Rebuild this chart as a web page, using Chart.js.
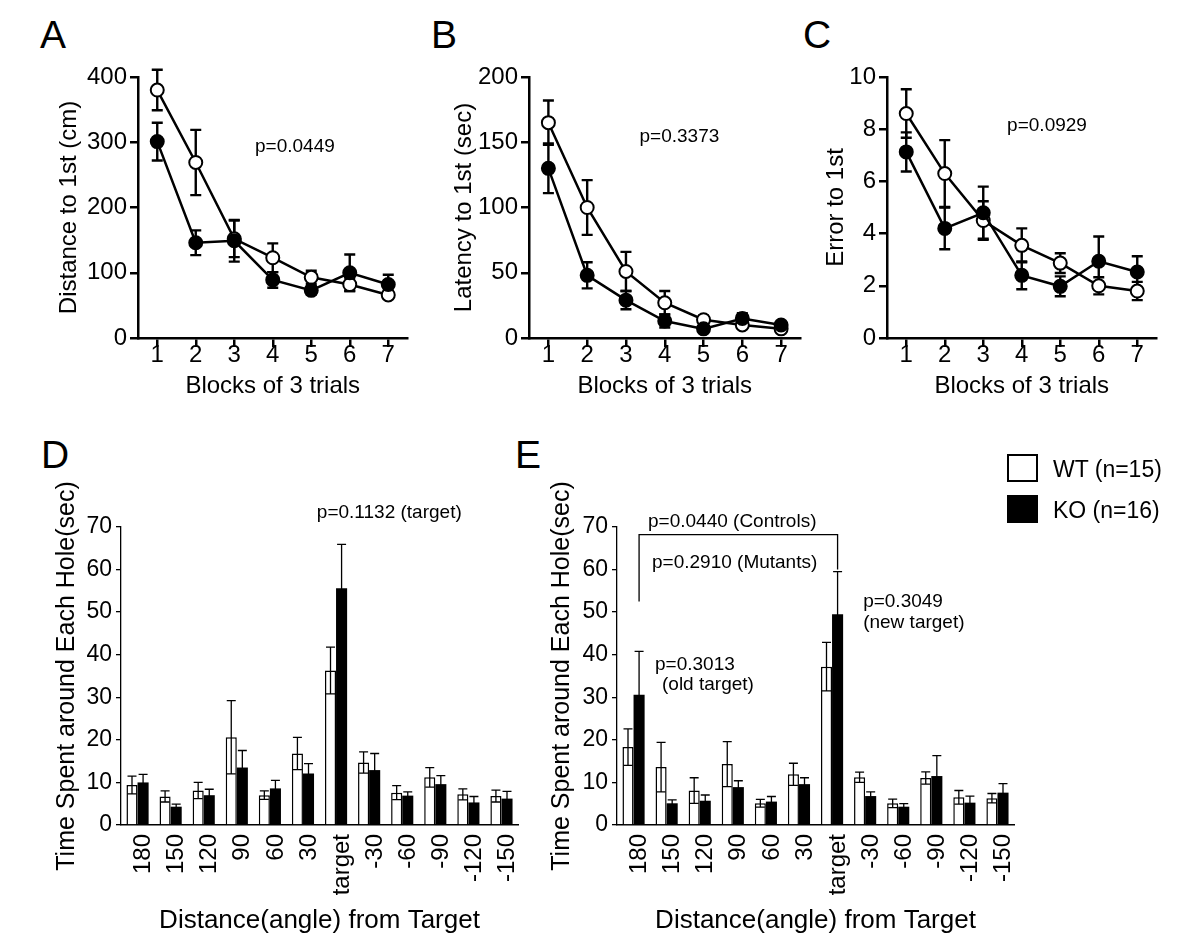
<!DOCTYPE html>
<html><head><meta charset="utf-8">
<script src="https://cdn.jsdelivr.net/npm/chart.js@4.4.1/dist/chart.umd.min.js"></script>
<style>
body{margin:0;background:#fff;width:1200px;height:951px;position:relative;overflow:hidden;font-family:'Liberation Sans',Arial,sans-serif;color:#000}
canvas{position:absolute}
.lt{position:absolute;font-size:39px;line-height:39px}
.lg{position:absolute;left:1007px;width:31px;height:28px;box-sizing:border-box;border:2px solid #000}
.lgt{position:absolute;left:1053px;font-size:23px;line-height:23px}
</style></head><body>
<div class="lt" style="left:40px;top:15px">A</div>
<div class="lt" style="left:431px;top:15px">B</div>
<div class="lt" style="left:803px;top:15px">C</div>
<div class="lt" style="left:41px;top:435px">D</div>
<div class="lt" style="left:515px;top:435px">E</div>
<canvas id="cA" width="420" height="410" style="left:0;top:0"></canvas>
<canvas id="cB" width="420" height="410" style="left:400px;top:0"></canvas>
<canvas id="cC" width="410" height="410" style="left:790px;top:0"></canvas>
<canvas id="cD" width="560" height="521" style="left:0;top:430px"></canvas>
<canvas id="cE" width="560" height="521" style="left:500px;top:430px"></canvas>
<div id="legend"></div>
<script>
const FONT="'Liberation Sans', Arial, sans-serif";
const seriesNames=['WT (n=15)','KO (n=16)'];

// A-C: blocks of 3 trials
const blocks=[1,2,3,4,5,6,7];
const wtDist=[380,269,152,123,93,82,66];
const wtDistSem=[31,50,28,22,10,10,6];
const koDist=[301,146,149,89,73,100,82];
const koDistSem=[29,19,32,12,6,28,15];
const wtLat=[165,100,51,27,14,10,7];
const wtLatSem=[17,21,15,9,3,3,2];
const koLat=[130,48,29,13,7,15,10];
const koLatSem=[19,10,7,5,2,4,2];
const wtErr=[8.6,6.3,4.5,3.55,2.87,2.0,1.8];
const wtErrSem=[0.93,1.28,0.74,0.65,0.38,0.33,0.35];
const koErr=[7.13,4.2,4.8,2.4,1.98,2.94,2.53];
const koErrSem=[0.75,0.8,1.0,0.53,0.38,0.95,0.6];

// D-E: time around each hole
const angles=['180','150','120','90','60','30','target','-30','-60','-90','-120','-150'];
const wtProbe1=[9.4,6.7,8.1,20.6,7.0,16.8,36.3,14.7,7.6,11.2,7.2,6.8];
const wtProbe1Sem=[2.1,1.3,1.9,8.6,1.0,3.8,5.5,2.5,1.65,2.3,1.3,1.4];
const koProbe1=[10.0,4.3,7.0,13.5,8.6,12.1,55.6,12.9,6.9,9.6,5.3,6.2];
const koProbe1Sem=[1.9,0.6,1.4,4.0,1.9,2.3,10.3,3.9,0.9,2.0,1.4,1.7];
const wtProbe2=[18.3,13.6,8.1,14.3,5.1,11.9,37.2,11.2,5.1,11.05,6.5,6.3];
const wtProbe2Sem=[4.3,5.8,3.0,5.3,0.9,2.6,5.7,1.2,1.0,1.45,1.6,1.1];
const koProbe2=[30.6,5.1,5.7,8.9,5.5,9.6,49.5,6.8,4.3,11.5,5.25,7.6];
const koProbe2Sem=[10.2,0.8,1.35,1.5,1.2,1.5,10.0,1.0,0.7,4.8,1.55,2.1];

// legend
document.getElementById('legend').innerHTML=seriesNames.map((n,i)=>
  `<div class="lg" style="top:${454+i*41}px;background:${i?'#000':'#fff'}"></div><div class="lgt" style="top:${458+i*41}px">${n}</div>`).join('');

function drawErr(chart,o){
  const ctx=chart.ctx,ys=chart.scales.y;
  ctx.save();ctx.strokeStyle='#000';ctx.lineWidth=o.width;
  chart.data.datasets.forEach((ds,i)=>{
    chart.getDatasetMeta(i).data.forEach((el,j)=>{
      const d=ds.data[j],v=typeof d==='object'?d.y:d,s=ds.sem[j],x=el.x;
      const y1=ys.getPixelForValue(v+s),y0=ys.getPixelForValue(v-s);
      ctx.beginPath();
      ctx.moveTo(x,y0);ctx.lineTo(x,y1);
      ctx.moveTo(x-o.cap/2,y1);ctx.lineTo(x+o.cap/2,y1);
      ctx.moveTo(x-o.cap/2,y0);ctx.lineTo(x+o.cap/2,y0);
      ctx.stroke();
    });
  });
  ctx.restore();
}
const errorBars={id:'errorBars',
  beforeDatasetsDraw(c,a,o){if(!o.top)drawErr(c,o);},
  afterDatasetsDraw(c,a,o){if(o.top)drawErr(c,o);}};
const notes={id:'notes',afterDraw(c,a,o){
  const ctx=c.ctx;ctx.save();ctx.fillStyle='#000';ctx.font=`${o.size}px ${FONT}`;
  ctx.textBaseline='middle';ctx.textAlign='left';
  (o.items||[]).forEach(n=>ctx.fillText(n.text,c.scales.x.getPixelForValue(n.x),c.scales.y.getPixelForValue(n.y)));
  const b=o.bracket;
  if(b){
    const m=c.getDatasetMeta(1).data,ys=c.scales.y;
    ctx.strokeStyle='#000';ctx.lineWidth=1.3;ctx.beginPath();
    ctx.moveTo(m[b.from].x,ys.getPixelForValue(b.leftY));
    ctx.lineTo(m[b.from].x,ys.getPixelForValue(b.topY));
    ctx.lineTo(m[b.to].x,ys.getPixelForValue(b.topY));
    ctx.lineTo(m[b.to].x,ys.getPixelForValue(b.rightY));
    ctx.stroke();
  }
  ctx.restore();
}};

function lineChart(id,wt,wtSem,ko,koSem,yMax,yStep,yTitle,box,note){
  const f={family:FONT,size:24};
  const ds=(vals,sem,fill,ord,name)=>({label:name,data:blocks.map((b,i)=>({x:b,y:vals[i]})),sem,order:ord,
    borderColor:'#000',borderWidth:2.5,pointRadius:6.5,pointBorderWidth:2,pointBackgroundColor:fill,pointBorderColor:'#000',tension:0});
  new Chart(document.getElementById(id),{
    type:'line',
    data:{datasets:[ds(wt,wtSem,'#fff',1,seriesNames[0]),ds(ko,koSem,'#000',0,seriesNames[1])]},
    options:{responsive:false,animation:false,devicePixelRatio:1,
      layout:{padding:{left:0,top:77,right:box.right,bottom:0}},
      plugins:{legend:{display:false},tooltip:{enabled:false},errorBars:{cap:11,width:2.4},notes:{size:19,items:[note]}},
      scales:{
        x:{type:'linear',min:0.5,max:7.5,
          afterBuildTicks:s=>{s.ticks=blocks.map(v=>({value:v}));},
          afterFit:s=>{s.height=72;},
          border:{color:'#000',width:2.5},
          grid:{drawOnChartArea:false,tickLength:9,color:'#000',lineWidth:2.5},
          ticks:{color:'#000',font:f,padding:-6,maxRotation:0},
          title:{display:true,text:'Blocks of 3 trials',color:'#000',font:f,padding:{top:0,bottom:9.6}}},
        y:{min:0,max:yMax,
          afterFit:s=>{s.width=box.yw;},
          border:{color:'#000',width:2.5},
          grid:{drawOnChartArea:false,tickLength:8,color:'#000',lineWidth:2.5},
          ticks:{stepSize:yStep,color:'#000',font:f,padding:3},
          title:{display:true,text:yTitle,color:'#000',font:f,padding:{top:box.ytp,bottom:0}}}
      }},
    plugins:[errorBars,notes]
  });
}

function barChart(id,wt,wtSem,ko,koSem,box,items,bracket){
  const f={family:FONT,size:23};
  new Chart(document.getElementById(id),{
    type:'bar',
    data:{labels:angles,datasets:[
      {label:seriesNames[0],data:wt,sem:wtSem,backgroundColor:'#fff',borderColor:'#000',borderWidth:1.5,borderSkipped:'start'},
      {label:seriesNames[1],data:ko,sem:koSem,backgroundColor:'#000',borderColor:'#000',borderWidth:0}]},
    options:{responsive:false,animation:false,devicePixelRatio:1,
      categoryPercentage:0.67,barPercentage:1,
      layout:{padding:{left:0,top:97,right:box.right,bottom:0}},
      plugins:{legend:{display:false},tooltip:{enabled:false},errorBars:{cap:9,width:1.3,top:true},notes:{size:19,items,bracket}},
      scales:{
        x:{afterFit:s=>{s.height=126;},
          border:{color:'#000',width:1.5},
          grid:{display:false,drawTicks:false},
          ticks:{color:'#000',font:{family:FONT,size:24},padding:9,labelOffset:6,autoSkip:false,minRotation:90,maxRotation:90},
          title:{display:true,text:'Distance(angle) from Target',color:'#000',font:{family:FONT,size:26},padding:{top:0,bottom:14.5}}},
        y:{min:0,max:70,
          afterFit:s=>{s.width=box.yw;},
          border:{color:'#000',width:1.3},
          grid:{drawOnChartArea:false,tickLength:5,color:'#000',lineWidth:1.3},
          ticks:{stepSize:10,color:'#000',font:f,padding:4},
          title:{display:true,text:'Time Spent around Each Hole(sec)',color:'#000',font:{family:FONT,size:25},padding:{top:box.ytp,bottom:0}}}
      }},
    plugins:[errorBars,notes]
  });
}

lineChart('cA',wtDist,wtDistSem,koDist,koDistSem,400,100,'Distance to 1st (cm)',{yw:138,right:12.5,ytp:54.6},{text:'p=0.0449',x:3.54,y:293});
lineChart('cB',wtLat,wtLatSem,koLat,koLatSem,200,50,'Latency to 1st (sec)',{yw:129,right:19.5,ytp:49.6},{text:'p=0.3373',x:3.35,y:154});
lineChart('cC',wtErr,wtErrSem,koErr,koErrSem,10,2,'Error to 1st',{yw:97,right:43.5,ytp:32.3},{text:'p=0.0929',x:3.62,y:8.12});

barChart('cD',wtProbe1,wtProbe1Sem,koProbe1,koProbe1Sem,{yw:121,right:42,ytp:52.5},
  [{text:'p=0.1132 (target)',x:5.42,y:73.3}]);
barChart('cE',wtProbe2,wtProbe2Sem,koProbe2,koProbe2Sem,{yw:117,right:46,ytp:47.5},
  [{text:'p=0.0440 (Controls)',x:0.437,y:71.3},
   {text:'p=0.2910 (Mutants)',x:0.558,y:61.6},
   {text:'p=0.3013',x:0.649,y:37.6},
   {text:'(old target)',x:0.86,y:32.9},
   {text:'p=0.3049',x:6.94,y:52.5},
   {text:'(new target)',x:6.94,y:47.6}],
  {from:0,to:6,leftY:52.5,topY:68.2,rightY:60});
</script>
</body></html>
